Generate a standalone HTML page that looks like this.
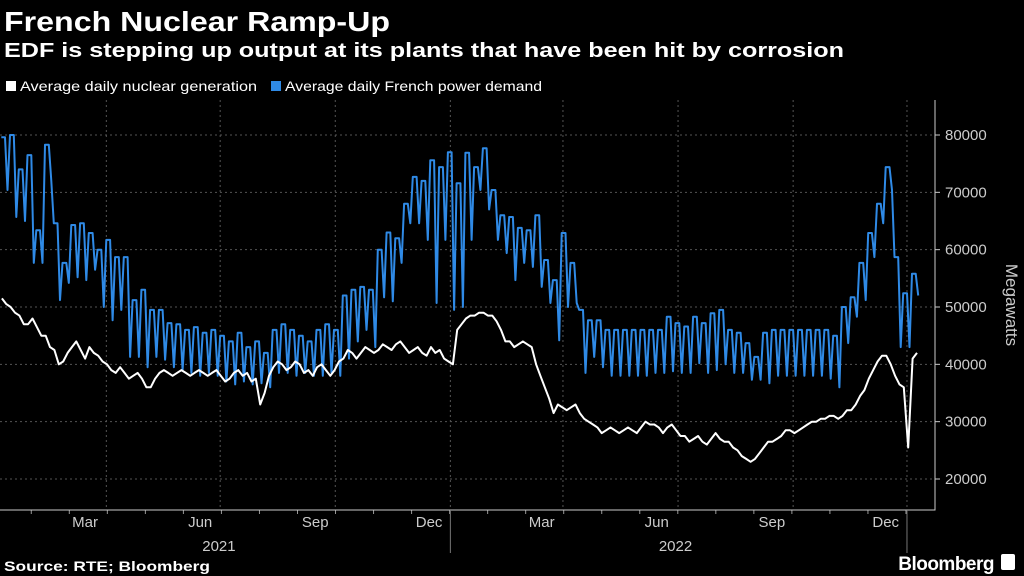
<!DOCTYPE html>
<html><head><meta charset="utf-8"><style>
body{margin:0;background:#000;width:1024px;height:576px;overflow:hidden;font-family:"Liberation Sans",sans-serif;color:#fff}
svg{position:absolute;left:0;top:0}
</style></head><body>
<svg id="c" width="1024" height="576">
<text x="4" y="31" font-size="28" font-weight="bold" fill="#fff" textLength="386" lengthAdjust="spacingAndGlyphs">French Nuclear Ramp-Up</text>
<text x="4" y="57" font-size="20" font-weight="bold" fill="#fff" textLength="840" lengthAdjust="spacingAndGlyphs">EDF is stepping up output at its plants that have been hit by corrosion</text>
<g>
<rect x="6" y="81" width="10" height="10" fill="#fff"/>
<text x="20" y="91" font-size="14" fill="#fff" textLength="237" lengthAdjust="spacingAndGlyphs">Average daily nuclear generation</text>
<rect x="271" y="81" width="10" height="10" fill="#2f8ae6"/>
<text x="285" y="91" font-size="14" fill="#fff" textLength="257" lengthAdjust="spacingAndGlyphs">Average daily French power demand</text>
</g>
<g id="grid"></g>
<g id="axes"></g>
<g id="series"></g>
<text x="1006" y="305" font-size="17" fill="#ccc" text-anchor="middle" transform="rotate(90 1006 305)">Megawatts</text>
<text x="4" y="571" font-size="14" font-weight="bold" fill="#fff" textLength="206" lengthAdjust="spacingAndGlyphs">Source: RTE; Bloomberg</text>
<text x="994" y="570" font-size="19" font-weight="bold" fill="#fff" text-anchor="end" letter-spacing="-0.5">Bloomberg</text>
<rect x="1001" y="554" width="14" height="16" rx="2" fill="#fff"/>
</svg>
<script>
const yTicks=[20000,30000,40000,50000,60000,70000,80000];
const monthLabels=["Mar","Jun","Sep","Dec","Mar","Jun","Sep","Dec"];
const monthLabelDays=[68,160,252,343,433,525,617,708];
const gridDays=[85,176,268,360,450,542,634,725];
const yearLabels=["2021","2022"];
const yearLabelDays=[175,540];
const yearBoundaryDays=[360,725];
const demandHigh=[79.6,80,74,76.5,63.4,78.3,64.6,57.7,64.3,64.6,62.9,60,61.7,58.7,58.7,51.2,53,49.5,49.5,47.2,
47,46,46.5,45.5,46,45,44,45.5,43,44,42,46,47,46,45,44,46,47,46,
52,53,53.5,53,60,63,62,68,72.7,72,75.6,74.4,77,
71.6,76.9,74.4,77.7,70.4,66,65.7,63.8,63.4,66,58.2,54.7,62.9,57.7,
49.5,47.7,47.7,46,46,46,46,46,46,46,
48.3,47.2,46.6,48.3,47.2,48.9,49.5,46,45.5,43.7,41.3,45.5,
46,46,46,46,46,46,46,45,50,51.7,57.7,62.9,68,74.4,58.7,52.4,55.8];
const demandLow=[70.4,65.7,65,57.7,57.7,72,51.2,54.2,55.2,54.7,56.5,50,47.7,49.5,41.3,41.3,39.5,41.3,40.8,39.5,
39,38.5,38,38.5,38,37,36.5,37,36.5,36.7,36,38.5,38.5,38,38.5,38,38,38.5,38,
41,44,46,43,51.7,51,57.7,64.6,64.6,61.7,50.7,61.7,49.5,
50,61.7,70.4,67,61.7,59.4,54.7,57.7,57,53.5,50.7,44.2,50,50.7,
38.5,41.3,39.5,38,38,38,38,38,38.5,38.5,
38.8,38.5,38.5,40.2,38.5,39,40,38.5,38.5,37.3,37.3,36.7,
38,38,38,38,38,38,37.5,36,43.7,48.3,51.2,58.7,64.6,70.4,43,43,52];
const nuclearA=[51.5,50,48.5,47,46.5,45,42.5,40.5,43,42.5,43,41.5,40,38.5,38.5,38,37.5,36,38.5,38.5,
38.5,38.5,38.5,38.5,38.5,38,37.5,39,38.5,37.5,35,39.5,40,39.5,40,39,39.5,39,39,
41,42,42,42.5,42.5,43,43.5,43,42.5,42,43,42.5,40.5,
46,48,48.5,49,48.5,46,44,43.5,43.5,40,36,31.5,32.5,32.5,
31.5,30,29,28.5,28.5,28.5,28.5,29,29.5,29,
29,28.5,27.5,27,26.5,27,27,26.5,25,23.5,23.5,25.5,
26.5,27.5,28.5,28.5,29.5,30,30.5,31,31,32,34.5,37.5,40.5,41.5,38,36,41];
const nuclearB=[50.5,49,47,48,45,43,40,42,44,41,42,40.5,39,39.5,37.5,38.5,36,37.5,39,38,
39,38,39,38,39,37,38.5,38,37,33,38,40.5,39,40.5,38.5,38,40,38,40.5,
42.5,41,43,42,43.5,42.5,44,42,43,41.5,42,41,40,
47,48.5,49,48.5,47.5,44,43,44,43,38,34,33,32,33,
30.5,29.5,28,29,28,29,28,30,29.5,28,
29.5,27.5,26.5,27.5,26,28,26.5,25.5,24,23,24.5,26.5,
27,28.5,28,29,30,30.5,31,30.5,32,33,35.5,39,41.5,40,36.5,25.5,42];

const NS="http://www.w3.org/2000/svg";
const PX_PER_DAY=1.251, X0=0, PLOT_TOP=100, PLOT_BOTTOM=510, PLOT_RIGHT=935;
function xScale(day){return X0+day*PX_PER_DAY;}
function yScale(v){return 135+(80000-v)*344/60000;}
function mk(tag,attrs,parent){const e=document.createElementNS(NS,tag);for(const k in attrs)e.setAttribute(k,attrs[k]);parent.appendChild(e);return e;}
const grid=document.getElementById('grid'),axes=document.getElementById('axes'),series=document.getElementById('series');

yTicks.forEach(t=>{
  const y=yScale(t);
  const l=mk('line',{x1:0,x2:PLOT_RIGHT,y1:y,y2:y,stroke:'#555','stroke-dasharray':'2,3','stroke-width':1},grid);
  
  
  const tk=mk('line',{x1:PLOT_RIGHT,x2:PLOT_RIGHT+5,y1:y,y2:y,stroke:'#ccc'},axes);
  
  
  const tx=mk('text',{x:945,y:y+5,'font-size':15,fill:'#ccc'},axes);
  tx.textContent=String(t);
  
  
});
gridDays.forEach(d=>{
  const x=xScale(d);
  const l=mk('line',{x1:x,x2:x,y1:PLOT_TOP,y2:PLOT_BOTTOM,stroke:'#555','stroke-dasharray':'2,3'},grid);
  
  
});
for(let d=0;d<=740;d+=30.4){
  const x=xScale(d+25);
  if(x>PLOT_RIGHT)break;
  const tk=mk('line',{x1:x,x2:x,y1:PLOT_BOTTOM,y2:PLOT_BOTTOM+4,stroke:'#999'},axes);
  
  
}
const ax=mk('path',{d:`M0 ${PLOT_BOTTOM}H${PLOT_RIGHT}V${PLOT_TOP}`,stroke:'#ccc',fill:'none'},axes);


monthLabels.forEach((m,i)=>{
  const t=mk('text',{x:xScale(monthLabelDays[i]),y:527,'font-size':15,fill:'#ccc','text-anchor':'middle'},axes);
  t.textContent=m;
  
  
});
yearLabels.forEach((m,i)=>{
  const t=mk('text',{x:xScale(yearLabelDays[i]),y:551,'font-size':15,fill:'#ccc','text-anchor':'middle'},axes);
  t.textContent=m;
  
  
});
yearBoundaryDays.forEach(d=>{
  const l=mk('line',{x1:xScale(d),x2:xScale(d),y1:PLOT_BOTTOM,y2:553,stroke:'#777'},axes);
  
  
});

let dp=[];
demandHigh.forEach((h,w)=>{
  const d=w*7;
  dp.push([xScale(d+1),yScale(h*1000)]);
  dp.push([xScale(d+4),yScale(h*1000)]);
  dp.push([xScale(d+6),yScale(demandLow[w]*1000)]);
});
const dl=mk('polyline',{points:dp.map(p=>p[0].toFixed(1)+','+p[1].toFixed(1)).join(' '),fill:'none',stroke:'#2f8ae6','stroke-width':2,'stroke-linejoin':'round'},series);



let np=[];
nuclearA.forEach((a,w)=>{
  const d=w*7;
  np.push([xScale(d+1.5),yScale(a*1000)]);
  np.push([xScale(d+5),yScale(nuclearB[w]*1000)]);
});
const nl=mk('polyline',{points:np.map(p=>p[0].toFixed(1)+','+p[1].toFixed(1)).join(' '),fill:'none',stroke:'#fff','stroke-width':2,'stroke-linejoin':'round'},series);


</script>
</body></html>
